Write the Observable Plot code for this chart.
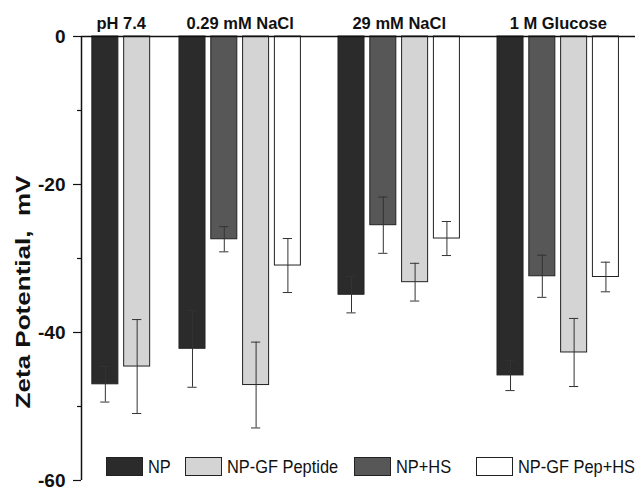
<!DOCTYPE html>
<html><head><meta charset="utf-8">
<script src="https://cdn.jsdelivr.net/npm/d3@7"></script>
<script src="https://cdn.jsdelivr.net/npm/@observablehq/plot@0.6"></script>
<style>
html,body{margin:0;padding:0;background:#fff;overflow:hidden;}
#wrap{position:relative;width:635px;height:490px;overflow:hidden;}
.legend-item{position:absolute;top:457px;display:flex;align-items:center;white-space:nowrap;font-family:"Liberation Sans",Arial,sans-serif;font-size:16.4px;line-height:19px;color:#111;}
.legend-item span{display:inline-block;transform:scaleY(1.17);transform-origin:50% 55%;}
.sw{width:37px;height:19px;box-sizing:border-box;border:1px solid #222;margin-right:5px;flex:none;}
#ylab{position:absolute;left:22px;top:292px;transform:translate(-50%,-50%) rotate(-90deg) scaleX(1.24);white-space:pre;font-family:"Liberation Sans",Arial,sans-serif;font-weight:bold;font-size:21px;color:#111;line-height:1;}
</style></head><body><div id="wrap"></div>
<script>
// ---- data ----
const groups = ["pH 7.4", "0.29 mM NaCl", "29 mM NaCl", "1 M Glucose"];
const seriesNames = ["NP", "NP-GF Peptide", "NP+HS", "NP-GF Pep+HS"];
const seriesColors = ["#2b2b2b", "#d4d4d4", "#575757", "#ffffff"];
// bar order inside each group
const drawOrder = ["NP", "NP+HS", "NP-GF Peptide", "NP-GF Pep+HS"];

const npMean      = [-47.0, -42.2, -34.9, -45.8];
const npSD        = [2.4, 5.2, 2.45, 2.05];
const npgfMean    = [-44.6, -47.1, -33.2, -42.7];
const npgfSD      = [6.35, 5.8, 2.55, 4.6];
const nphsMean    = [null, -27.4, -25.5, -32.4];
const nphsSD      = [null, 1.7, 3.8, 2.85];
const npgfhsMean  = [null, -30.95, -27.3, -32.5];
const npgfhsSD    = [null, 3.65, 2.3, 2.0];

const yTicksMajor = [0, -20, -40, -60];
const yTicksMinor = [-10, -30, -50];
const yLabel = "Zeta Potential,  mV";

// ---- build table ----
const seriesData = {
  "NP": [npMean, npSD],
  "NP-GF Peptide": [npgfMean, npgfSD],
  "NP+HS": [nphsMean, nphsSD],
  "NP-GF Pep+HS": [npgfhsMean, npgfhsSD]
};
const rows = [];
const groupPos = [];
let cursor = 0;
groups.forEach((g, gi) => {
  if (gi > 0) cursor += (gi === 1 ? 0.74 : 1);   // gap between groups (slot units)
  const ps = [];
  drawOrder.forEach(s => {
    const [m, sd] = seriesData[s];
    if (m[gi] == null) return;
    rows.push({group: g, series: s, mean: m[gi], sd: sd[gi], pos: cursor});
    ps.push(cursor);
    cursor += 1;
  });
  groupPos.push({name: g, pos: d3.mean(ps)});
});

const half = 0.409, cap = 0.145;
const xDomain = [-0.75, 16.67];

const chart = Plot.plot({
  width: 635, height: 490,
  marginLeft: 81, marginRight: 0, marginTop: 36, marginBottom: 10,
  x: {domain: xDomain, axis: null},
  y: {domain: [-60, 0], axis: null},
  color: {domain: seriesNames, range: seriesColors},
  style: {fontFamily: "Liberation Sans, Arial, sans-serif", color: "#111", background: "white", overflow: "visible"},
  marks: [
    Plot.rectY(rows, {x1: d => d.pos - half, x2: d => d.pos + half, y1: d => 0, y2: "mean",
      fill: "series", stroke: "#222", strokeWidth: 1}),
    Plot.ruleX(rows, {x: "pos", y1: d => d.mean - d.sd, y2: d => d.mean + d.sd, stroke: "#333", strokeWidth: 1}),
    Plot.ruleY(rows, {y: d => d.mean - d.sd, x1: d => d.pos - cap, x2: d => d.pos + cap, stroke: "#333", strokeWidth: 1}),
    Plot.ruleY(rows, {y: d => d.mean + d.sd, x1: d => d.pos - cap, x2: d => d.pos + cap, stroke: "#333", strokeWidth: 1}),
    Plot.ruleY([0], {stroke: "#111", strokeWidth: 1.5}),
    Plot.ruleX([xDomain[0]], {stroke: "#111", strokeWidth: 1.5}),
    Plot.axisY({ticks: yTicksMinor, tickSize: 4, tickFormat: () => "", label: null, strokeWidth: 1.2}),
    Plot.axisY({ticks: yTicksMajor, tickSize: 8, tickPadding: 8, tickFormat: d => String(d),
      label: null, fontSize: 19, fontWeight: "bold", strokeWidth: 1.2}),
    Plot.text(groupPos, {x: "pos", y: d => 0, text: "name", dy: -8, lineAnchor: "bottom",
      fontSize: 16.5, fontWeight: "bold", fill: "#111"})
  ]
});
const wrap = document.getElementById("wrap");
wrap.appendChild(chart);

const yl = document.createElement("div");
yl.id = "ylab";
yl.textContent = yLabel;
wrap.appendChild(yl);

// legend (inside the plot area, near the bottom)
const legendLeft = [106, 185, 354, 476];
seriesNames.forEach((s, i) => {
  const item = document.createElement("div");
  item.className = "legend-item";
  item.style.left = legendLeft[i] + "px";
  const sw = document.createElement("div");
  sw.className = "sw";
  sw.style.background = seriesColors[i];
  const tx = document.createElement("span");
  tx.textContent = s;
  item.appendChild(sw); item.appendChild(tx);
  wrap.appendChild(item);
});
</script>
</body></html>
